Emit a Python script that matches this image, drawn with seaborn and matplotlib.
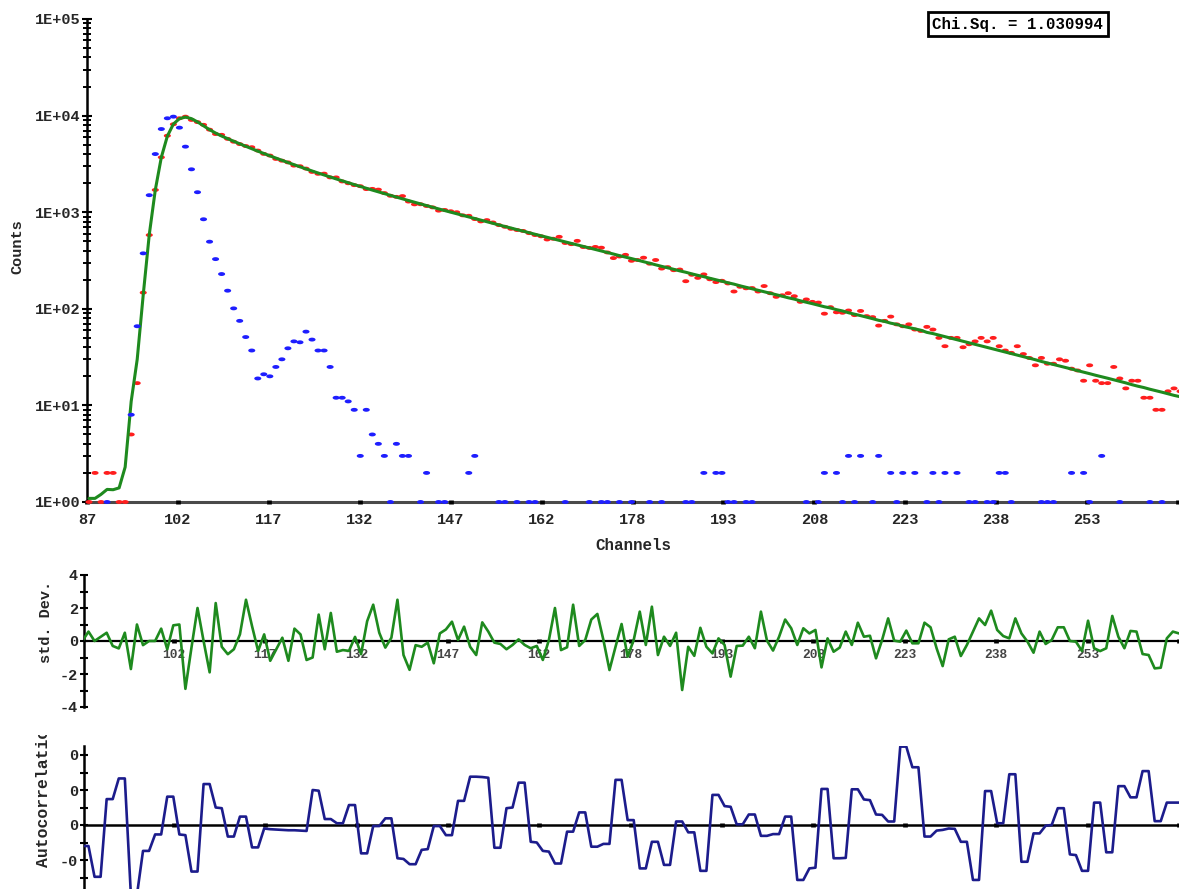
import numpy as np
import pandas as pd
import matplotlib
matplotlib.use("Agg")
import matplotlib.pyplot as plt
import seaborn as sns
from matplotlib.path import Path
from matplotlib.ticker import FixedLocator, FixedFormatter, NullFormatter
from matplotlib.transforms import Bbox, TransformedBbox

# ---------------- data ----------------
channels = list(range(87, 269))

fit_counts = [
    1.09, 1.09, 1.2, 1.35, 1.34, 1.4, 2.3, 11, 30, 140,            # 87-96
    586, 1700, 3700, 6130, 8180, 9290, 9650, 9300, 8600, 7850,       # 97-106
    7150, 6600, 6143, 5770, 5425, 5107, 4812, 4539, 4287, 4053,      # 107-116
    3835, 3633, 3444, 3268, 3104, 2951, 2807, 2672, 2546, 2428,      # 117-126
    2316, 2211, 2112, 2019, 1932, 1848, 1769, 1694, 1624, 1557,      # 127-136
    1494, 1433, 1375, 1320, 1268, 1218, 1171, 1125, 1082, 1040,      # 137-146
    1001, 963, 926, 892, 859, 827, 796, 767, 738, 711,               # 147-156
    686, 660, 637, 613, 591, 570, 549, 530, 511, 492,                # 157-166
    475, 458, 442, 426, 411, 396, 382, 369, 355, 343,                # 167-176
    331, 319, 307, 297, 285, 275, 266, 256, 247, 239,                # 177-186
    230, 222, 215, 207, 200, 193, 186, 180, 173, 167,                # 187-196
    161, 156, 150, 145, 140, 135, 130, 126, 121, 117,                # 197-206
    113, 109, 105, 102, 98, 95, 91, 88, 85, 82,                      # 207-216
    79, 76, 74, 71, 69, 66, 64, 62, 60, 57,                          # 217-226
    55.4, 53.4, 51.5, 49.7, 47.8, 46.1, 44.4, 42.8, 41.2, 39.8,      # 227-236
    38.4, 37.0, 35.6, 34.3, 33.1, 31.9, 30.8, 29.7, 28.5, 27.5,      # 237-246
    26.5, 25.6, 24.7, 23.8, 22.9, 22.1, 21.3, 20.5, 19.8, 19.1,      # 247-256
    18.4, 17.7, 17.1, 16.4, 15.8, 15.3, 14.7, 14.2, 13.7, 13.2,      # 257-266
    12.7, 12.3,                                                      # 267-268
]

decay_counts = [
    1, 2, 1, 2, 2, 1, 1, 5, 17, 147,                                 # 87-96
    580, 1700, 3700, 6190, 8130, 9380, 9750, 9020, 8563, 8027,       # 97-106
    7150, 6446, 6323, 5743, 5366, 5071, 4840, 4708, 4346, 4015,      # 107-116
    3860, 3561, 3415, 3279, 3037, 2992, 2828, 2613, 2496, 2507,      # 117-126
    2292, 2291, 2082, 1994, 1906, 1859, 1735, 1743, 1713, 1577,      # 127-136
    1479, 1441, 1468, 1289, 1206, 1209, 1159, 1122, 1038, 1055,      # 137-146
    1023, 999, 928, 918, 849, 803, 828, 783, 735, 706,               # 147-156
    673, 654, 640, 607, 580, 563, 522, 531, 556, 480,                # 157-166
    467, 505, 436, 427, 437, 429, 383, 335, 348, 362,                # 167-176
    314, 320, 338, 293, 320, 261, 270, 251, 255, 193,                # 177-186
    225, 209, 227, 202, 189, 195, 183, 151, 169, 163,                # 187-196
    164, 151, 172, 145, 133, 138, 145, 135, 118, 125,                # 197-206
    118, 116, 89, 104, 92, 91, 96, 86, 95, 84,                       # 207-216
    82, 67, 75, 83, 69, 66, 69, 61, 59, 65,                          # 217-226
    61, 50, 41, 50, 50, 40, 43, 46, 50, 46,                          # 227-236
    50, 41, 37, 35, 41, 34, 31, 26, 31, 27,                          # 237-246
    27, 30, 29, 24, 23, 18, 26, 18, 17, 17,                          # 247-256
    25, 19, 15, 18, 18, 12, 12, 9, 9, 14,                            # 257-266
    15, 14,                                                          # 267-268
]

irf_counts = [
    0, 0, 0, 1, 0, 0, 0, 8, 66, 375,                                 # 87-96
    1500, 4000, 7260, 9380, 9750, 7500, 4770, 2780, 1610, 845,       # 97-106
    495, 327, 229, 154, 101, 75, 51, 37, 19, 21,                     # 107-116
    20, 25, 30, 39, 46, 45, 58, 48, 37, 37,                          # 117-126
    25, 12, 12, 11, 9, 3, 9, 5, 4, 3,                                # 127-136
    1, 4, 3, 3, 0, 1, 2, 0, 1, 1,                                    # 137-146
    0, 0, 0, 2, 3, 0, 0, 0, 1, 1,                                    # 147-156
    0, 1, 0, 1, 1, 0, 0, 0, 0, 1,                                    # 157-166
    0, 0, 0, 1, 0, 1, 1, 0, 1, 0,                                    # 167-176
    1, 0, 0, 1, 0, 1, 0, 0, 0, 1,                                    # 177-186
    1, 0, 2, 0, 2, 2, 1, 1, 0, 1,                                    # 187-196
    1, 0, 0, 0, 0, 0, 0, 0, 0, 1,                                    # 197-206
    0, 1, 2, 0, 2, 1, 3, 1, 3, 0,                                    # 207-216
    1, 3, 0, 2, 1, 2, 0, 2, 0, 1,                                    # 217-226
    2, 1, 2, 0, 2, 0, 1, 1, 0, 1,                                    # 227-236
    1, 2, 2, 1, 0, 0, 0, 0, 1, 1,                                    # 237-246
    1, 0, 0, 2, 0, 2, 1, 0, 3, 0,                                    # 247-256
    0, 1, 0, 0, 0, 0, 1, 0, 1, 0,                                    # 257-266
    0, 0,                                                            # 267-268
]

std_dev = [
    0.0, 0.57, 0.0, 0.25, 0.5, -0.3, -0.45, 0.5, -1.7, 1.0,
    -0.25, 0.0, 0.0, 0.75, -0.5, 0.95, 1.0, -2.9, -0.4, 2.0,
    0.0, -1.9, 2.3, -0.35, -0.8, -0.5, 0.4, 2.5, 0.9, -0.6,
    0.4, -1.2, -0.5, 0.2, -1.2, 0.75, 0.4, -1.15, -1.0, 1.6,
    -0.5, 1.7, -0.65, -0.55, -0.6, 0.25, -0.8, 1.2, 2.2, 0.5,
    -0.4, 0.2, 2.5, -0.85, -1.75, -0.25, -0.35, -0.1, -1.35, 0.46,
    0.7, 1.17, 0.06, 0.87, -0.35, -0.85, 1.13, 0.57, -0.1, -0.18,
    -0.5, -0.24, 0.1, -0.24, -0.44, -0.3, -1.15, 0.06, 2.0, -0.55,
    -0.38, 2.2, -0.3, 0.06, 1.3, 1.64, 0.06, -1.76, -0.35, 1.03,
    -0.95, 0.06, 1.78, -0.24, 2.08, -0.85, 0.26, -0.3, 0.5, -2.97,
    -0.35, -0.9, 0.8, -0.35, -0.75, 0.16, -0.24, -2.16, -0.3, -0.28,
    0.26, -0.44, 1.78, 0.02, -0.58, 0.26, 1.3, 0.77, -0.24, 0.77,
    0.46, 0.67, -1.6, 0.16, -0.65, -0.4, 0.57, -0.24, 1.11, 0.26,
    0.32, -1.05, 0.06, 1.37, 0.02, -0.04, 0.63, -0.14, -0.14, 1.11,
    0.83, -0.44, -1.52, 0.1, 0.26, -0.91, -0.24, 0.57, 1.37, 0.97,
    1.84, 0.67, 0.3, 0.16, 1.37, 0.46, -0.04, -0.71, 0.57, -0.18,
    0.06, 0.83, 0.83, 0.0, -0.04, -0.61, 1.23, -0.44, -0.61, -0.44,
    1.52, 0.26, -0.44, 0.61, 0.57, -0.79, -0.85, -1.66, -1.62, 0.16,
    0.57, 0.46,
]

autocorr = [
    -0.06, -0.06, -0.148, -0.148, 0.074, 0.074, 0.133, 0.133, -0.2, -0.2,
    -0.074, -0.074, -0.027, -0.027, 0.081, 0.081, -0.027, -0.029, -0.133, -0.133,
    0.117, 0.117, 0.05, 0.048, -0.033, -0.033, 0.024, 0.024, -0.064, -0.064,
    -0.01, -0.012, -0.013, -0.014, -0.015, -0.015, -0.016, -0.017, 0.1, 0.098,
    0.017, 0.017, 0.005, 0.005, 0.057, 0.057, -0.081, -0.081, -0.003, -0.003,
    0.019, 0.019, -0.095, -0.097, -0.112, -0.112, -0.071, -0.069, -0.003, -0.003,
    -0.029, -0.029, 0.069, 0.069, 0.138, 0.138, 0.137, 0.135, -0.065, -0.065,
    0.048, 0.05, 0.121, 0.121, -0.048, -0.05, -0.074, -0.076, -0.11, -0.11,
    -0.019, -0.019, 0.036, 0.036, -0.062, -0.062, -0.054, -0.054, 0.129, 0.129,
    0.014, 0.014, -0.124, -0.124, -0.048, -0.048, -0.114, -0.114, 0.01, 0.01,
    -0.021, -0.021, -0.131, -0.131, 0.086, 0.086, 0.054, 0.052, 0.002, 0.002,
    0.03, 0.03, -0.031, -0.031, -0.026, -0.026, 0.024, 0.024, -0.157, -0.157,
    -0.124, -0.122, 0.103, 0.103, -0.095, -0.095, -0.094, 0.102, 0.102, 0.073,
    0.071, 0.03, 0.029, 0.01, 0.01, 0.224, 0.224, 0.165, 0.165, -0.033,
    -0.033, -0.016, -0.014, -0.01, -0.011, -0.048, -0.048, -0.157, -0.157, 0.097,
    0.097, 0.005, 0.005, 0.145, 0.145, -0.105, -0.105, -0.024, -0.024, -0.002,
    0.0, 0.048, 0.048, -0.084, -0.086, -0.131, -0.131, 0.064, 0.064, -0.078,
    -0.078, 0.111, 0.111, 0.079, 0.079, 0.154, 0.154, 0.011, 0.011, 0.064,
    0.064, 0.064,
]

x_tick_labels = ["87", "102", "117", "132", "147", "162", "178", "193",
                 "208", "223", "238", "253", ""]
resid_x_tick_labels = [""] + x_tick_labels[1:]
count_ticks = [1, 10, 100, 1000, 10000, 100000]
count_tick_labels = ["1E+00", "1E+01", "1E+02", "1E+03", "1E+04", "1E+05"]
sd_ticks = [-4, -2, 0, 2, 4]
sd_tick_labels = ["-4", "-2", "0", "2", "4"]
ac_ticks = [0.2, 0.1, 0.0, -0.1]
ac_tick_labels = ["0", "0", "0", "-0"]
chi_label = "Chi.Sq. = 1.030994"

# ---------------- styling ----------------
sns.set_theme(style="white")
plt.rcParams["font.family"] = ["Liberation Mono", "DejaVu Sans Mono"]
plt.rcParams["font.weight"] = "bold"

C_FIT = "#1e8a1e"
C_RED = "#ff1e1e"
C_BLUE = "#1e1eff"
C_AC = "#1c1c8c"
FS = 11

df = pd.DataFrame({"channel": channels, "fit": fit_counts, "decay": decay_counts,
                   "irf": irf_counts, "sd": std_dev, "ac": autocorr})
irf_df = df[df["irf"] > 0]

W, H = 1179, 889
fig = plt.figure(figsize=(W / 100, H / 100), dpi=100)
fig.patch.set_facecolor("white")

ax1 = fig.add_axes([87 / W, 1 - 502 / H, (W - 87) / W, 483 / H])
ax2 = fig.add_axes([84 / W, 1 - 707 / H, (W - 84) / W, 132 / H])
ax3 = fig.add_axes([84 / W, 1 - 912.5 / H, (W - 84) / W, 166.25 / H])
for ax in (ax1, ax2, ax3):
    ax.set_facecolor("none")
    ax.spines["top"].set_visible(False)
    ax.spines["right"].set_visible(False)
    ax.grid(False)
    ax.set_axisbelow(False)
    ax.spines["bottom"].set_zorder(1)

step = 181 / 12.0

# ---------- top panel ----------
t = np.linspace(0, 2 * np.pi, 25)
dash = Path(np.column_stack([np.cos(t), 0.55 * np.sin(t)]), closed=True)

ax1.set_yscale("log")
sns.scatterplot(data=df, x="channel", y="decay", ax=ax1, marker=dash, s=26,
                color=C_RED, edgecolor="none", linewidth=0, zorder=3, clip_on=False)
sns.lineplot(data=df, x="channel", y="fit", ax=ax1, color=C_FIT, linewidth=2.2,
             estimator=None, zorder=4)
sns.scatterplot(data=irf_df, x="channel", y="irf", ax=ax1, marker=dash, s=26,
                color=C_BLUE, edgecolor="none", linewidth=0, zorder=5, clip_on=False)

x0_top = 86.67
ax1.set_xlim(x0_top, x0_top + (W - 87) / 6.028)
ax1.set_ylim(1, 1e5)
ax1.xaxis.set_major_locator(FixedLocator([x0_top + k * step for k in range(13)]))
ax1.xaxis.set_major_formatter(FixedFormatter(x_tick_labels))
ax1.yaxis.set_major_locator(FixedLocator(count_ticks))
ax1.yaxis.set_major_formatter(FixedFormatter(count_tick_labels))
ax1.yaxis.set_minor_locator(matplotlib.ticker.LogLocator(base=10, subs=range(2, 10)))
ax1.yaxis.set_minor_formatter(NullFormatter())
ax1.spines["left"].set_color("black")
ax1.spines["left"].set_linewidth(1.8)
ax1.spines["bottom"].set_color("#4a4a4a")
ax1.spines["bottom"].set_linewidth(2.2)
ax1.tick_params(axis="y", which="major", direction="inout", length=6.5, width=1.5,
                color="black", labelsize=FS, pad=1.5, left=True)
ax1.tick_params(axis="y", which="minor", direction="inout", length=5.5, width=1.4,
                color="black", left=True)
ax1.tick_params(axis="x", which="major", direction="inout", length=3.0, width=3.4,
                color="black", labelsize=FS, pad=6.5, bottom=True)
ax1.set_xlabel("Channels", fontsize=FS + 0.4, fontweight="bold")
ax1.xaxis.set_label_coords((633 - 87) / (W - 87), -(545 - 502) / 483)
ax1.xaxis.label.set_va("center")
ax1.set_ylabel("Counts", fontsize=FS, fontweight="bold")
ax1.yaxis.set_label_coords((17 - 87) / (W - 87), (502 - 247) / 483)
ax1.yaxis.label.set_va("center")
ax1.yaxis.label.set_ha("center")

fig.text(1018 / W, 1 - 24 / H, chi_label, ha="center", va="center", fontsize=11.3,
         fontweight="bold", color="black",
         bbox=dict(boxstyle="square,pad=0.3", fc="white", ec="black", lw=2))

# ---------- residual panel ----------
x0_low = 87.26
sns.lineplot(data=df, x="channel", y="sd", ax=ax2, color=C_FIT, linewidth=1.9,
             estimator=None, zorder=3)
ax2.set_xlim(x0_low, x0_low + (W - 84) / 6.058)
ax2.set_ylim(-4, 4)
ax2.spines["bottom"].set_position(("data", 0))
ax2.spines["bottom"].set_color("black")
ax2.spines["bottom"].set_linewidth(1.6)
ax2.spines["left"].set_color("black")
ax2.spines["left"].set_linewidth(1.8)
ax2.xaxis.set_major_locator(FixedLocator([87 + k * step for k in range(13)]))
ax2.xaxis.set_major_formatter(FixedFormatter(resid_x_tick_labels))
ax2.yaxis.set_major_locator(FixedLocator(sd_ticks))
ax2.yaxis.set_major_formatter(FixedFormatter(sd_tick_labels))
ax2.yaxis.set_minor_locator(FixedLocator([-3, -1, 1, 3]))
ax2.tick_params(axis="y", which="both", direction="inout", length=6.0, width=1.5,
                color="black", labelsize=FS, pad=1.5, left=True)
ax2.tick_params(axis="x", which="major", direction="inout", length=3.0, width=3.4,
                color="black", labelsize=9.3, labelcolor="#444444", pad=4.5, bottom=True)
ax2.set_xlabel("")
ax2.set_ylabel("std. Dev.", fontsize=FS, fontweight="bold")
ax2.yaxis.set_label_coords((46 - 84) / (W - 84), (707 - 622) / 132)
ax2.yaxis.label.set_va("center")
ax2.yaxis.label.set_ha("center")

# ---------- autocorrelation panel ----------
sns.lineplot(data=df, x="channel", y="ac", ax=ax3, color=C_AC, linewidth=1.9,
             estimator=None, zorder=3)
ax3.set_xlim(x0_low, x0_low + (W - 84) / 6.058)
ax3.set_ylim(-0.25, 0.225)
ax3.spines["bottom"].set_position(("data", 0))
ax3.spines["bottom"].set_color("black")
ax3.spines["bottom"].set_linewidth(1.8)
ax3.spines["left"].set_color("black")
ax3.spines["left"].set_linewidth(1.8)
ax3.xaxis.set_major_locator(FixedLocator([87 + k * step for k in range(13)]))
ax3.xaxis.set_major_formatter(NullFormatter())
ax3.yaxis.set_major_locator(FixedLocator(ac_ticks))
ax3.yaxis.set_major_formatter(FixedFormatter(ac_tick_labels))
ax3.yaxis.set_minor_locator(FixedLocator([0.15, 0.05, -0.05, -0.15]))
ax3.tick_params(axis="y", which="both", direction="inout", length=6.0, width=1.5,
                color="black", labelsize=FS, pad=1.5, left=True)
ax3.tick_params(axis="x", which="major", direction="inout", length=3.0, width=3.4,
                color="black", labelbottom=False, bottom=True)
ax3.set_xlabel("")
ax3.set_ylabel("Autocorrelation", fontsize=11.8, fontweight="bold")
ax3.yaxis.set_label_coords((43 - 84) / (W - 84), (912.5 - 793) / 166.25)
ax3.yaxis.label.set_va("center")
ax3.yaxis.label.set_ha("center")
ax3.yaxis.label.set_clip_on(True)
ax3.yaxis.label.set_clip_box(TransformedBbox(Bbox([[0, 0], [1, 1 - 735 / H]]),
                                             fig.transFigure))

for ax in (ax1, ax2, ax3):
    for lab in ax.get_xticklabels() + ax.get_yticklabels():
        lab.set_fontweight("bold")

fig.savefig("out.png", dpi=100, facecolor="white")
